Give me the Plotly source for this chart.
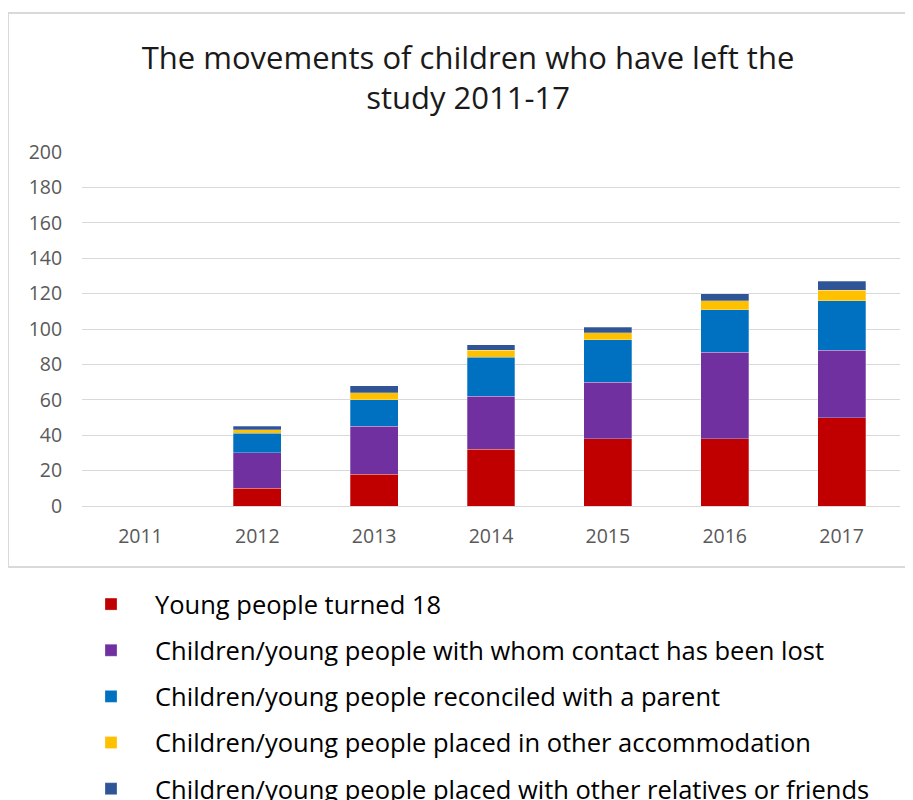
import plotly.graph_objects as go

years = ["2011", "2012", "2013", "2014", "2015", "2016", "2017"]
turned_18 = [0, 10, 18, 32, 38, 38, 50]
contact_lost = [0, 20, 27, 30, 32, 49, 38]
reconciled = [0, 11, 15, 22, 24, 24, 28]
other_accom = [0, 2, 4, 4, 4, 5, 6]
relatives = [0, 2, 4, 3, 3, 4, 5]

series = [
    ("Young people turned 18", turned_18, "#C00000"),
    ("Children/young people with whom contact has been lost", contact_lost, "#7030A0"),
    ("Children/young people reconciled with a parent", reconciled, "#0070C0"),
    ("Children/young people placed in other accommodation", other_accom, "#FFC000"),
    ("Children/young people placed with other relatives or friends", relatives, "#2F5597"),
]

# page offset caused by the default 8px body margin
OFF = 8
W, H = 913 - OFF, 800 - OFF
# target plot area in page pixels
PL, PR, PT, PB = 82, 900, 152, 506
ML, MR, MT, MB = PL - OFF, (W + OFF) - PR, PT - OFF, (H + OFF) - PB
PW, PH = W - ML - MR, H - MT - MB

FONT = "Open Sans, Noto Sans, sans-serif"

fig = go.Figure()
for i, (name, vals, color) in enumerate(series):
    fig.add_trace(go.Bar(
        x=years, y=vals, name=name, legendgroup=f"g{i}",
        marker=dict(color=color, line=dict(width=0.6, color="rgba(255,255,255,0.45)")),
    ))

def px_x(p):
    return (p - PL) / PW

def px_y(p):
    return (PB - p) / PH

fig.update_layout(
    width=W, height=H,
    margin=dict(l=ML, r=MR, t=MT, b=MB, autoexpand=False),
    barmode="stack",
    bargap=0.59,
    plot_bgcolor="white",
    paper_bgcolor="white",
    font=dict(family=FONT, color="#595959"),
    showlegend=True,
    title=dict(
        text="The movements of children who have left the<br>study 2011-17",
        x=(468 - OFF) / W, y=1 - (69 - OFF) / H, xref="container", yref="container",
        xanchor="center", yanchor="middle",
        font=dict(family=FONT, size=31, color="#1A1A1A"),
    ),
    legend=dict(
        x=px_x(67), y=px_y(581), xanchor="left", yanchor="top",
        traceorder="grouped", tracegroupgap=10, itemwidth=78,
        font=dict(family=FONT, size=25.5, color="#000000"),
        bgcolor="rgba(0,0,0,0)",
    ),
    xaxis=dict(showgrid=False, showline=False, ticks="outside", ticklen=13,
               tickcolor="rgba(0,0,0,0)", tickfont=dict(size=19.5, color="#595959")),
    yaxis=dict(range=[0, 200], dtick=20, showgrid=True, gridcolor="#D9D9D9", gridwidth=1,
               zeroline=True, zerolinecolor="#D9D9D9", zerolinewidth=1,
               tickfont=dict(size=19.5, color="#595959"), ticks="outside", ticklen=15,
               tickcolor="rgba(0,0,0,0)"),
    shapes=[dict(
        type="rect", xref="paper", yref="paper",
        x0=px_x(8), x1=px_x(916), y0=px_y(567), y1=px_y(13),
        line=dict(color="#D9D9D9", width=2), fillcolor="rgba(0,0,0,0)", layer="below",
    )],
)

fig.write_html("out.html")
